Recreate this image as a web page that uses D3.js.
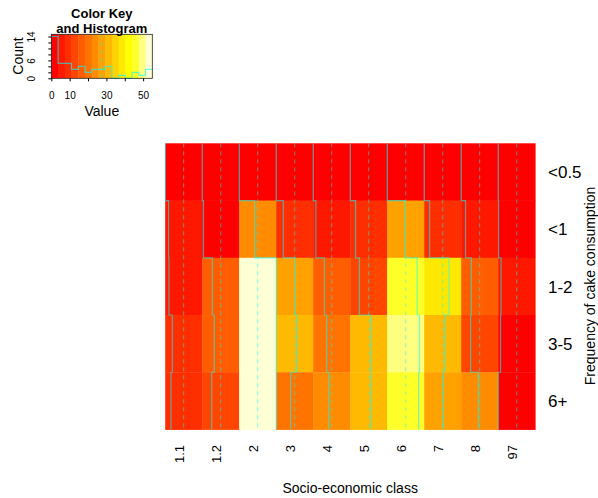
<!DOCTYPE html>
<html>
<head>
<meta charset="utf-8">
<script src="https://cdn.jsdelivr.net/npm/d3@7"></script>
<style>
body { margin: 0; background: #fff; }
text { font-family: "Liberation Sans", Arial, sans-serif; fill: #000; }
</style>
</head>
<body>
<div id="chart"></div>
<script>
// Socio-economic classes (columns) and cake frequency (rows, top to bottom)
const classes = ["1.1", "1.2", "2", "3", "4", "5", "6", "7", "8", "97"];
const freqs = ["<0.5", "<1", "1-2", "3-5", "6+"];

// counts per class, one array per frequency row
const rowLt05   = [0, 0, 0, 0, 0, 0, 0, 0, 0, 0];
const rowLt1    = [5, 2, 23, 10.6, 4, 8, 27, 8, 6.5, 0.5];
const row1to2   = [5.6, 15, 55, 27.5, 16.5, 13.7, 44.5, 37, 15, 4.2];
const row3to5   = [10.6, 17.9, 55, 30.4, 20, 30.5, 48, 30.7, 14, 3.5];
const row6plus  = [8.6, 14.1, 55, 21.5, 23, 30.5, 46.7, 28.5, 25.4, 0];

// colour key tick labels
const keyTicks = [0, 10, 20, 30, 40, 50];
const keyTickLabels = ["0", "10", "", "30", "", "50"];
const countTicks = [0, 2, 4, 6, 8, 10, 12, 14];
const countTickLabels = ["0", "", "", "6", "", "", "", "14"];

// R heat.colors(15)
const heat = ["#FF0000", "#FF1800", "#FF2E00", "#FF4600", "#FF5D00", "#FF7400", "#FF8B00",
  "#FFA200", "#FFB900", "#FFD100", "#FFE800", "#FFFF00", "#FFFF2A", "#FFFF80", "#FFFFD5"];
const traceCol = "#00FFFF";

const W = 598, H = 498;
const svg = d3.select('#chart').append('svg')
    .attr('width', W)
    .attr('height', H);

const rows = [rowLt05, rowLt1, row1to2, row3to5, row6plus];
const cells = [];
rows.forEach((r, i) => r.forEach((v, j) => cells.push({ row: freqs[i], col: classes[j], v: v })));
const allValues = cells.map(d => d.v);
const vmin = d3.min(allValues), vmax = d3.max(allValues);
const breaks = d3.range(heat.length + 1).map(i => vmin + (vmax - vmin) * i / heat.length);
const vline = d3.median(breaks);

const color = d3.scaleThreshold()
    .domain(breaks.slice(1, -1))
    .range(heat);

// ---- main heatmap ----
const x = d3.scaleBand().domain(classes).range([165.2, 535.2]);
const y = d3.scaleBand().domain(freqs).range([143.3, 429.5]);
const within = d3.scaleLinear().domain([vmin, vmax]).range([0, x.bandwidth()]);

svg.append('g').selectAll('rect')
    .data(cells)
    .enter().append('rect')
    .attr('x', d => x(d.col))
    .attr('y', d => y(d.row))
    .attr('width', x.bandwidth() + 0.4)
    .attr('height', y.bandwidth() + 0.4)
    .attr('fill', d => color(d.v));

// dashed reference line in every column
svg.append('g').selectAll('line')
    .data(classes)
    .enter().append('line')
    .attr('x1', d => x(d) + within(vline))
    .attr('x2', d => x(d) + within(vline))
    .attr('y1', 143.3)
    .attr('y2', 429.5)
    .attr('stroke', traceCol)
    .attr('stroke-opacity', 0.5)
    .attr('stroke-width', 1)
    .attr('stroke-dasharray', '4,4');

// column trace (step line, bottom row first)
const lineGen = d3.line();
classes.forEach((c, j) => {
    const pts = [];
    freqs.slice().reverse().forEach(f => {
        const v = rows[freqs.indexOf(f)][j];
        const xv = x(c) + within(v);
        pts.push([xv, y(f) + y.bandwidth()]);
        pts.push([xv, y(f)]);
    });
    svg.append('path')
        .attr('d', lineGen(pts))
        .attr('fill', 'none')
        .attr('stroke', traceCol)
        .attr('stroke-opacity', 0.55)
        .attr('stroke-width', 1.2);
});

// row labels
svg.append('g').selectAll('text')
    .data(freqs)
    .enter().append('text')
    .attr('x', 548)
    .attr('y', d => y(d) + y.bandwidth() / 2)
    .attr('dy', '0.36em')
    .style('font-size', '17px')
    .text(d => d);

// column labels (rotated)
svg.append('g').selectAll('text')
    .data(classes)
    .enter().append('text')
    .attr('transform', d => `translate(${x(d) + x.bandwidth() / 2 - 4},445) rotate(-90)`)
    .attr('text-anchor', 'end')
    .attr('dy', '0.36em')
    .style('font-size', '13px')
    .text(d => d);

svg.append('text')
    .attr('x', (165.2 + 535.2) / 2)
    .attr('y', 493)
    .attr('text-anchor', 'middle')
    .style('font-size', '14px')
    .text('Socio-economic class');

svg.append('text')
    .attr('transform', `translate(595,286) rotate(-90)`)
    .attr('text-anchor', 'middle')
    .style('font-size', '14px')
    .text('Frequency of cake consumption');

// ---- colour key with histogram ----
const keyX = d3.scaleLinear().domain([vmin, vmax]).range([51.3, 152.3]);
const bins = d3.bin()
    .domain([vmin, vmax])
    .thresholds(breaks.slice(1, -1))(allValues);
const counts = bins.map(b => b.length);
const maxCount = d3.max(counts);
const keyY = d3.scaleLinear().domain([0, maxCount / 0.95]).range([78.3, 34.3]);

const key = svg.append('g');
key.selectAll('rect')
    .data(heat)
    .enter().append('rect')
    .attr('x', (d, i) => keyX(breaks[i]))
    .attr('y', 34.3)
    .attr('width', (d, i) => keyX(breaks[i + 1]) - keyX(breaks[i]) + 0.4)
    .attr('height', 44)
    .attr('fill', d => d);

key.append('line')
    .attr('x1', keyX(vline)).attr('x2', keyX(vline))
    .attr('y1', 34.3).attr('y2', 78.3)
    .attr('stroke', traceCol)
    .attr('stroke-opacity', 0.5)
    .attr('stroke-dasharray', '4,4');

const histPts = [];
counts.forEach((n, i) => {
    histPts.push([keyX(breaks[i]), keyY(n)]);
    histPts.push([keyX(breaks[i + 1]), keyY(n)]);
});
key.append('path')
    .attr('d', lineGen(histPts))
    .attr('fill', 'none')
    .attr('stroke', traceCol)
    .attr('stroke-opacity', 0.6)
    .attr('stroke-width', 1.2);

key.append('rect')
    .attr('x', 51.3).attr('y', 34.3)
    .attr('width', 101).attr('height', 44)
    .attr('fill', 'none')
    .attr('stroke', '#222')
    .attr('stroke-width', 0.8);

const xAxis = key.append('g')
    .attr('transform', 'translate(0,78.3)')
    .call(d3.axisBottom(keyX).tickValues(keyTicks).tickFormat((d, i) => keyTickLabels[i]).tickSize(3).tickSizeOuter(0));
xAxis.select('.domain').remove();
xAxis.selectAll('text').attr('y', 21).attr('dy', 0).style('font-size', '10px').style('font-family', '"Liberation Sans", Arial, sans-serif');

const yAxis = key.append('g')
    .attr('transform', 'translate(51.3,0)')
    .call(d3.axisLeft(keyY).tickValues(countTicks).tickFormat((d, i) => countTickLabels[i]).tickSize(3).tickSizeOuter(0));
yAxis.select('.domain').remove();
yAxis.selectAll('text')
    .attr('x', null).attr('dy', null)
    .attr('text-anchor', 'middle')
    .attr('transform', 'translate(-16,0) rotate(-90)')
    .style('font-size', '10px')
    .style('font-family', '"Liberation Sans", Arial, sans-serif');

key.append('text')
    .attr('x', 101.8).attr('y', 116)
    .attr('text-anchor', 'middle')
    .style('font-size', '14px')
    .text('Value');

key.append('text')
    .attr('transform', 'translate(23,56) rotate(-90)')
    .attr('text-anchor', 'middle')
    .style('font-size', '14px')
    .text('Count');

key.append('text')
    .attr('x', 101.8).attr('y', 18)
    .attr('text-anchor', 'middle')
    .style('font-size', '13px')
    .style('font-weight', 'bold')
    .text('Color Key');
key.append('text')
    .attr('x', 101.8).attr('y', 32.5)
    .attr('text-anchor', 'middle')
    .style('font-size', '13px')
    .style('font-weight', 'bold')
    .text('and Histogram');
</script>
</body>
</html>
